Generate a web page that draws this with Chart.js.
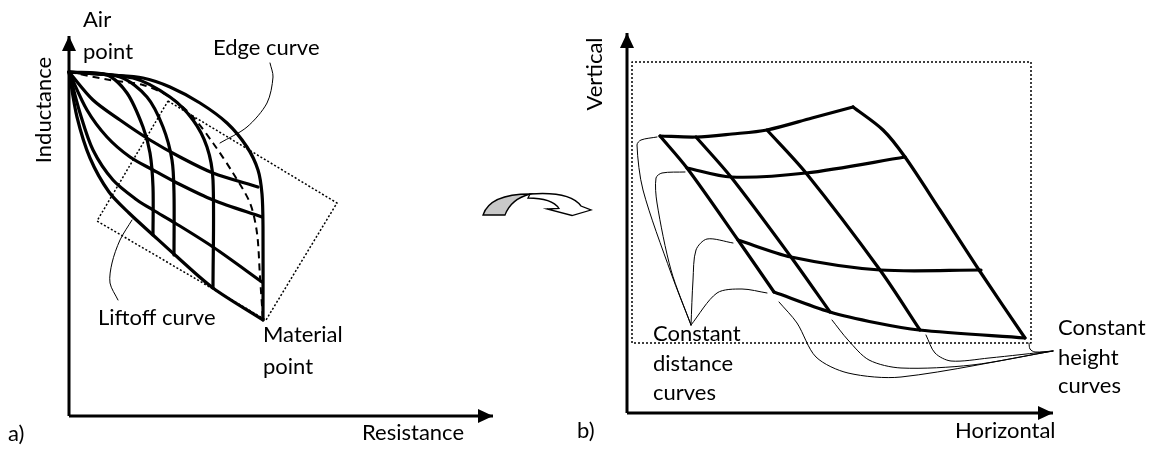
<!DOCTYPE html>
<html>
<head>
<meta charset="utf-8">
<script src="https://cdn.jsdelivr.net/npm/chart.js@4/dist/chart.umd.min.js"></script>
<style>
  body { margin: 0; background: #fff; }
  #wrap { width: 1153px; height: 450px; }
</style>
</head>
<body>
<div id="wrap"><canvas id="sketch"></canvas></div>
<script>
// a) impedance plane, local units with origin at the axis corner
const axisA = [[0, 0], [424, 0], [0, 380]];
const edgeOuter = [[0, 344], [41, 341], [74, 338], [101, 329], [131, 313], [158, 293], [178, 269], [189, 246], [193, 222], [194, 189], [194, 96]];
const vCurve1 = [[0, 344], [38, 341], [58, 323], [74, 289], [81, 263], [84, 229], [84, 181]];
const vCurve2 = [[0, 344], [51, 339], [78, 319], [94, 289], [103, 256], [105, 223], [105, 161]];
const vCurve3 = [[0, 344], [64, 338], [101, 319], [124, 296], [138, 269], [144, 236], [144, 128]];
const hCurve1 = [[0, 344], [24, 316], [51, 296], [81, 276], [111, 259], [144, 243], [189, 229]];
const hCurve2 = [[0, 344], [18, 306], [38, 279], [61, 259], [84, 246], [108, 233], [144, 216], [193, 199]];
const hCurve3 = [[0, 344], [11, 303], [24, 266], [44, 236], [68, 216], [84, 206], [106, 193], [144, 169], [193, 134]];
const liftoff = [[0, 344], [8, 299], [21, 258], [40, 224], [60, 203], [84, 181], [106, 161], [144, 128], [194, 96]];
const edgeDashed = [[0, 344], [41, 336], [74, 331], [101, 319], [124, 299], [144, 273], [164, 243], [181, 213], [188, 183], [191, 139], [194, 96]];
const boxA = [[99, 315], [268, 213], [197, 96], [28, 195], [99, 315]];
const edgeLeader = [[201, 353], [204, 339], [198, 313], [178, 289], [151, 273]];
const liftoffLeader = [[63, 196], [51, 176], [43, 153], [41, 133], [49, 116]];

// b) vertical / horizontal plane
const axisB = [[0, 0], [426, 0], [0, 380]];
const rowTop = [[33, 277], [69, 276], [105, 279], [140, 283], [185, 295], [226, 306]];
const rowOne = [[60, 245], [104, 236], [179, 240], [278, 256]];
const rowTwo = [[111, 173], [164, 156], [253, 143], [354, 143]];
const rowBottom = [[147, 121], [203, 101], [250, 90], [292, 83], [398, 75]];
const colLeft = [[33, 277], [60, 245], [111, 173], [147, 121]];
const colOne = [[69, 276], [104, 236], [164, 156], [203, 101]];
const colTwo = [[140, 283], [179, 240], [253, 143], [293, 83]];
const colRight = [[226, 306], [256, 283], [278, 256], [313, 203], [352, 143], [398, 75]];
const boxB = [[5, 70], [5, 351], [404, 351], [404, 70], [5, 70]];
const distLeaders = [
  [[30, 276], [14, 273], [10, 268], [16, 223], [44, 140], [64, 88]],
  [[58, 241], [35, 240], [29, 235], [30, 210], [44, 143], [64, 88]],
  [[106, 170], [80, 174], [69, 163], [66, 133], [64, 88]],
  [[140, 120], [115, 124], [90, 120], [64, 88]]
];
const heightLeaders = [
  [[402, 70], [403, 64], [408, 61], [426, 62]],
  [[299, 78], [308, 60], [324, 52], [362, 55], [426, 62]],
  [[205, 93], [221, 73], [242, 53], [274, 45], [345, 48], [426, 62]],
  [[152, 111], [170, 90], [189, 56], [221, 40], [274, 36], [426, 62]]
];

const labels = [
  {text: 'Air', x: 83, y: 27},
  {text: 'point', x: 83, y: 59},
  {text: 'Edge curve', x: 213, y: 55},
  {text: 'Liftoff curve', x: 98, y: 325},
  {text: 'Material', x: 263, y: 342},
  {text: 'point', x: 263, y: 374},
  {text: 'Inductance', x: 44, y: 110, rot: true},
  {text: 'Resistance', x: 362, y: 440},
  {text: 'a)', x: 8, y: 441},
  {text: 'Vertical', x: 595, y: 74, rot: true},
  {text: 'Horizontal', x: 955, y: 438},
  {text: 'b)', x: 577, y: 438},
  {text: 'Constant', x: 653, y: 341},
  {text: 'distance', x: 653, y: 371},
  {text: 'curves', x: 653, y: 400},
  {text: 'Constant', x: 1058, y: 335},
  {text: 'height', x: 1058, y: 365},
  {text: 'curves', x: 1058, y: 393}
];

function pts(arr) {
    return arr.map(p => ({x: p[0], y: p[1]}));
}

function line(arr, panel, width, extra) {
    return Object.assign({
        data: pts(arr),
        xAxisID: 'x' + panel,
        yAxisID: 'y' + panel,
        showLine: true,
        pointRadius: 0,
        borderColor: '#000',
        borderWidth: width,
        tension: 0.3,
        fill: false,
        borderCapStyle: 'round',
        borderJoinStyle: 'round'
    }, extra || {});
}

const datasets = [];
// axes with arrows
datasets.push(line([axisA[0], axisA[1]], 'a', 3, {tension: 0, arrow: true, borderCapStyle: 'butt'}));
datasets.push(line([axisA[0], axisA[2]], 'a', 3, {tension: 0, arrow: true, borderCapStyle: 'butt'}));
datasets.push(line([axisB[0], axisB[1]], 'b', 3, {tension: 0, arrow: true, borderCapStyle: 'butt'}));
datasets.push(line([axisB[0], axisB[2]], 'b', 3, {tension: 0, arrow: true, borderCapStyle: 'butt'}));

// panel a
datasets.push(line(boxA, 'a', 1.5, {tension: 0, borderDash: [2, 2], borderCapStyle: 'butt'}));
datasets.push(line(edgeDashed, 'a', 2, {borderDash: [7, 5], borderCapStyle: 'butt'}));
[edgeOuter, vCurve1, vCurve2, vCurve3, hCurve1, hCurve2, hCurve3, liftoff].forEach(c => {
    datasets.push(line(c, 'a', 3.2));
});
datasets.push(line(edgeLeader, 'a', 1));
datasets.push(line(liftoffLeader, 'a', 1));

// panel b
datasets.push(line(boxB, 'b', 1.5, {tension: 0, borderDash: [2, 2], borderCapStyle: 'butt'}));
[rowTop, rowOne, rowTwo, rowBottom, colLeft, colOne, colTwo, colRight].forEach(c => {
    datasets.push(line(c, 'b', 3.2));
});
distLeaders.concat(heightLeaders).forEach(c => {
    datasets.push(line(c, 'b', 1));
});

const arrowHeads = {
    id: 'arrowHeads',
    afterDatasetsDraw(chart) {
        const ctx = chart.ctx;
        chart.data.datasets.forEach((ds, i) => {
            if (!ds.arrow) return;
            const pts = chart.getDatasetMeta(i).data;
            const a = pts[0], b = pts[pts.length - 1];
            const ang = Math.atan2(b.y - a.y, b.x - a.x);
            const len = 15, half = 7;
            ctx.save();
            ctx.translate(b.x, b.y);
            ctx.rotate(ang);
            ctx.fillStyle = '#000';
            ctx.beginPath();
            ctx.moveTo(0, 0);
            ctx.lineTo(-len, -half);
            ctx.lineTo(-len, half);
            ctx.closePath();
            ctx.fill();
            ctx.restore();
        });
    }
};

const decor = {
    id: 'decor',
    afterDraw(chart) {
        const ctx = chart.ctx;
        ctx.save();
        // curved block arrow between the panels
        ctx.lineWidth = 1.3;
        ctx.strokeStyle = '#000';
        ctx.fillStyle = '#fff';
        ctx.beginPath();
        ctx.moveTo(530, 194);
        ctx.quadraticCurveTo(570, 191, 581, 206);
        ctx.lineTo(591, 210);
        ctx.lineTo(572, 215.5);
        ctx.lineTo(547, 209);
        ctx.lineTo(559, 208.5);
        ctx.quadraticCurveTo(552, 198, 528, 198);
        ctx.closePath();
        ctx.fill();
        ctx.stroke();
        ctx.fillStyle = '#c8c8c8';
        ctx.beginPath();
        ctx.moveTo(483, 215);
        ctx.quadraticCurveTo(490, 194, 530, 194);
        ctx.quadraticCurveTo(511, 199, 505, 215);
        ctx.closePath();
        ctx.fill();
        ctx.stroke();

        // text
        ctx.fillStyle = '#000';
        ctx.font = '22px Lato, "Open Sans", sans-serif';
        labels.forEach(l => {
            if (l.rot) {
                ctx.save();
                ctx.translate(l.x, l.y);
                ctx.rotate(-Math.PI / 2);
                ctx.textAlign = 'center';
                ctx.textBaseline = 'middle';
                ctx.fillText(l.text, 0, 0);
                ctx.restore();
            } else {
                ctx.textAlign = 'left';
                ctx.textBaseline = 'alphabetic';
                ctx.fillText(l.text, l.x, l.y);
            }
        });
        ctx.restore();
    }
};

new Chart(document.getElementById('sketch'), {
    type: 'scatter',
    data: {datasets: datasets},
    options: {
        responsive: true,
        maintainAspectRatio: false,
        animation: false,
        layout: {padding: 0},
        plugins: {
            legend: {display: false},
            tooltip: {enabled: false}
        },
        scales: {
            xa: {type: 'linear', display: false, min: -69, max: 1084},
            ya: {type: 'linear', display: false, min: -34, max: 416},
            xb: {type: 'linear', display: false, min: -627, max: 526},
            yb: {type: 'linear', display: false, min: -37, max: 413}
        }
    },
    plugins: [arrowHeads, decor]
});
</script>
</body>
</html>
